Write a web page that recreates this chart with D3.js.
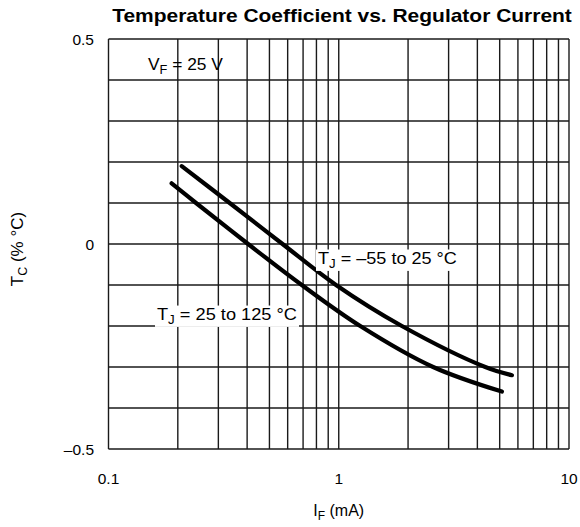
<!DOCTYPE html>
<html>
<head>
<meta charset="utf-8">
<script src="https://cdn.jsdelivr.net/npm/d3@7"></script>
<style>
  html, body { margin: 0; padding: 0; background: #fff; }
  svg { display: block; }
  text { font-family: "Liberation Sans", Arial, Helvetica, sans-serif; fill: #000; }
</style>
</head>
<body>
<svg id="chart" width="580" height="527"></svg>
<script>
// ---- data ----
const xDomain = [0.1, 10];
const yDomain = [-0.5, 0.5];
const xTickValues = [0.1, 1, 10];
const xTickLabels = ["0.1", "1", "10"];
const yTickValues = [0.5, 0, -0.5];
const yTickLabels = ["0.5", "0", "–0.5"];
const yGridValues = [0.5, 0.4, 0.3, 0.2, 0.1, 0, -0.1, -0.2, -0.3, -0.4, -0.5];

// T_J = -55 to 25 °C (upper curve)
const coldI  = [0.208, 0.336, 0.570, 0.973, 1.88, 4.33, 5.65];
const coldTc = [0.190, 0.100, 0.000, -0.100, -0.200, -0.300, -0.320];
// T_J = 25 to 125 °C (lower curve)
const hotI  = [0.188, 0.240, 0.404, 0.691, 1.24, 2.57, 5.11];
const hotTc = [0.148, 0.100, 0.000, -0.100, -0.200, -0.300, -0.360];

// ---- layout ----
const svg = d3.select("#chart");
const m = { left: 108.5, right: 569, top: 39, bottom: 449 };

const x = d3.scaleLog().domain(xDomain).range([m.left, m.right]);
const y = d3.scaleLinear().domain(yDomain).range([m.bottom, m.top]);

// x grid at 1..10 per decade
const xGrid = [];
for (let d = 0.1; d < 10; d *= 10) {
  for (let k = 1; k <= 10; k++) xGrid.push(+(d * k).toPrecision(3));
}
const gridColor = "#1a1a1a";
const g = svg.append("g");
g.selectAll("line.vx").data(Array.from(new Set(xGrid))).enter().append("line")
  .attr("x1", d => x(d)).attr("x2", d => x(d))
  .attr("y1", m.top).attr("y2", m.bottom)
  .attr("stroke", gridColor).attr("stroke-width", 1.4);
g.selectAll("line.hy").data(yGridValues).enter().append("line")
  .attr("x1", m.left).attr("x2", m.right)
  .attr("y1", d => y(d)).attr("y2", d => y(d))
  .attr("stroke", gridColor).attr("stroke-width", 1.4);

// curves
const line = d3.line().x(d => x(d[0])).y(d => y(d[1])).curve(d3.curveCatmullRom.alpha(0.5));
[[coldI, coldTc], [hotI, hotTc]].forEach(([xs, ys]) => {
  svg.append("path")
    .datum(xs.map((v, i) => [v, ys[i]]))
    .attr("d", line)
    .attr("fill", "none").attr("stroke", "#000")
    .attr("stroke-width", 4.2).attr("stroke-linecap", "round");
});

// stretch a text horizontally to a target width, keeping its anchor point
function fit(t, target, ax) {
  const w = t.node().getComputedTextLength();
  const s = target / w;
  t.attr("transform", `translate(${ax},0) scale(${s},1) translate(${-ax},0)`);
}

// tick labels
svg.selectAll("text.xt").data(xTickValues).enter().append("text")
  .attr("x", d => x(d)).attr("y", 484)
  .attr("text-anchor", "middle").attr("font-size", 15.5)
  .text((d, i) => xTickLabels[i]);
svg.selectAll("text.yt").data(yTickValues).enter().append("text")
  .attr("x", 94).attr("y", d => y(d) + 5.5)
  .attr("text-anchor", "end").attr("font-size", 15.5)
  .text((d, i) => yTickLabels[i]);

// title
const cx = 342;
const title = svg.append("text").attr("x", cx).attr("y", 22)
  .attr("text-anchor", "middle").attr("font-size", 18).attr("font-weight", "bold")
  .text("Temperature Coefficient vs. Regulator Current");
fit(title, 460, cx);

// axis titles
const xt = svg.append("text").attr("x", x(1)).attr("y", 516)
  .attr("text-anchor", "middle").attr("font-size", 16);
xt.append("tspan").text("I");
xt.append("tspan").attr("font-size", 12).attr("dy", 4).text("F");
xt.append("tspan").attr("dy", -4).text(" (mA)");

const yt = svg.append("text").attr("transform", "translate(23,249) rotate(-90)")
  .attr("text-anchor", "middle").attr("font-size", 17);
yt.append("tspan").text("T");
yt.append("tspan").attr("font-size", 12.5).attr("dy", 4).text("C");
yt.append("tspan").attr("dy", -4).text(" (% °C)");

// annotations
function label(xp, yp, main, sub, rest, bg, target) {
  const grp = svg.append("g");
  const t = grp.append("text").attr("x", xp).attr("y", yp).attr("font-size", 17);
  t.append("tspan").text(main);
  t.append("tspan").attr("font-size", 12.5).attr("dy", 4).text(sub);
  t.append("tspan").attr("dy", -4).text(rest);
  if (target) fit(t, target, xp);
  if (bg) {
    const w = target || t.node().getComputedTextLength();
    const b = t.node().getBBox();
    grp.insert("rect", "text").attr("x", xp - 2).attr("y", b.y + 1)
      .attr("width", w + 4).attr("height", b.height - 1).attr("fill", "#fff");
  }
}
label(148, 70, "V", "F", " = 25 V", false, 75);
label(318, 264, "T", "J", " = –55 to 25 °C", true, 139);
label(157, 320, "T", "J", " = 25 to 125 °C", true, 140);
</script>
</body>
</html>
